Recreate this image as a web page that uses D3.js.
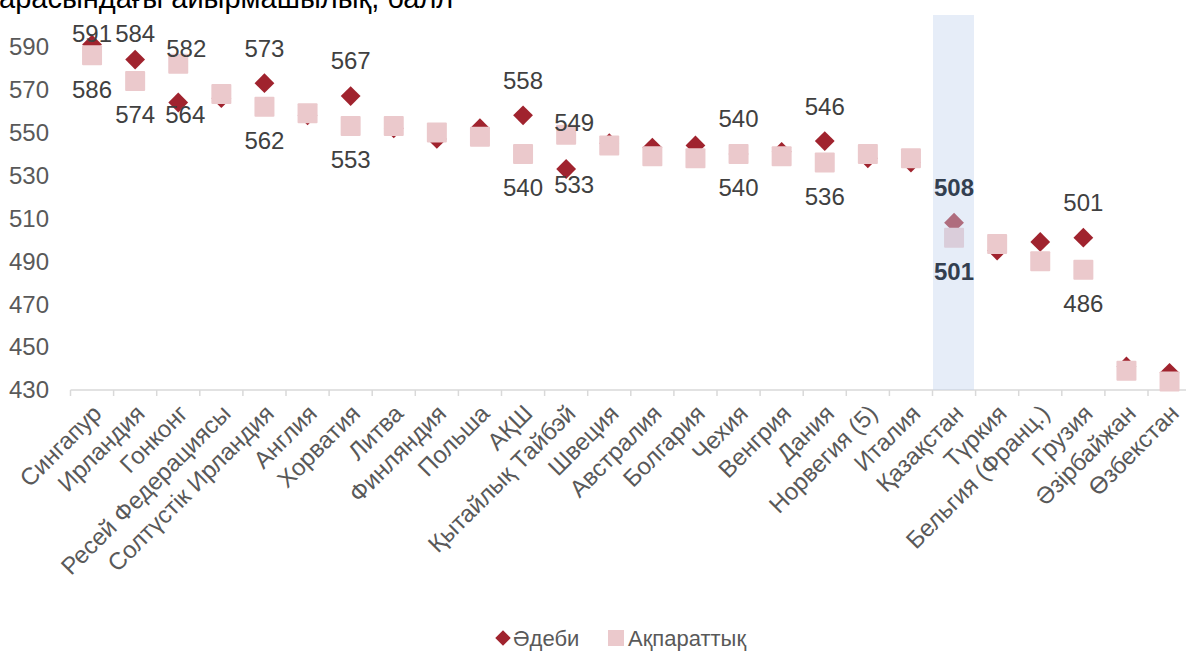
<!DOCTYPE html>
<html><head><meta charset="utf-8">
<script src="https://cdn.jsdelivr.net/npm/d3@7"></script>
<style>
html,body{margin:0;padding:0;background:#fff;}
svg{display:block;font-family:"Liberation Sans",Arial,sans-serif;}
</style></head>
<body>
<svg id="chart" width="1186" height="651"></svg>
<script>
const categories = ["Сингапур","Ирландия","Гонконг","Ресей Федерациясы","Солтүстік Ирландия","Англия","Хорватия","Литва","Финляндия","Польша","АҚШ","Қытайлық Тайбэй","Швеция","Австралия","Болгария","Чехия","Венгрия","Дания","Норвегия (5)","Италия","Қазақстан","Түркия","Бельгия (Франц.)","Грузия","Әзірбайжан","Өзбекстан"];
const literary = [591,584,564,566,573,558,567,552,547,552,558,533,545,543,544,540,541,546,538,536,508,495,499,501,441,438];
const informational = [586,574,582,568,562,559,553,553,550,548,540,549,544,539,538,540,539,536,540,538,501,498,490,486,439,434];
const yTicks = [430,450,470,490,510,530,550,570,590];
const labelled = ["Сингапур","Ирландия","Гонконг","Солтүстік Ирландия","Хорватия","АҚШ","Қытайлық Тайбэй","Чехия","Дания","Қазақстан","Грузия"];
const highlight = "Қазақстан";
const seriesNames = ["Әдеби","Ақпараттық"];
const titleText = "арасындағы айырмашылық, балл";

// label placement (layout config)
const litLabelOffset = {"Сингапур":[0,-11],"Ирландия":[0,-26],"Гонконг":[7,12],"Қытайлық Тайбэй":[8,16]};
const infLabelOffset = {"Гонконг":[8,-15],"Қытайлық Тайбэй":[8,-12]};

const svg = d3.select("#chart");
const x = d3.scaleBand().domain(categories).range([70.5, 70.5 + 26*43.1]).padding(0);
const y = d3.scaleLinear().domain([430,590]).range([390,46.7]);

const C_LIT = "#A0232E", C_INF = "#EBC9CC", C_TXT = "#595959", C_LBL = "#404040";

// title
svg.append("text").attr("x",-1).attr("y",8).attr("font-size",29).attr("fill","#000").text(titleText);

// y axis labels
svg.append("g").selectAll("text").data(yTicks).join("text")
  .attr("x",49).attr("y",d=>y(d)).attr("dy","0.35em").attr("text-anchor","end")
  .attr("font-size",24).attr("fill",C_TXT).text(d=>d);

// x axis
const xAxis = svg.append("g").attr("transform","translate(0,390)");
xAxis.append("line").attr("x1",x.range()[0]).attr("x2",x.range()[1]).attr("stroke","#D9D9D9").attr("stroke-width",1.5);
const bounds = categories.map(c=>x(c)).concat([x.range()[1]]);
xAxis.selectAll("line.tick").data(bounds).join("line").attr("class","tick")
  .attr("x1",d=>d).attr("x2",d=>d).attr("y1",0).attr("y2",6).attr("stroke","#D9D9D9").attr("stroke-width",1.5);
xAxis.selectAll("text").data(categories).join("text")
  .attr("transform",d=>`translate(${x(d)+x.bandwidth()/2+5},${19}) rotate(-45)`)
  .attr("text-anchor","end").attr("dy","0.35em").attr("font-size",24).attr("fill",C_TXT).text(d=>d);

const cx = c => x(c)+x.bandwidth()/2;
// diamonds
svg.append("g").selectAll("rect").data(categories).join("rect")
  .attr("x",-7).attr("y",-7).attr("width",14).attr("height",14)
  .attr("transform",(c,i)=>`translate(${cx(c)},${y(literary[i])}) rotate(45)`)
  .attr("fill",C_LIT);
// squares
svg.append("g").selectAll("rect").data(categories).join("rect")
  .attr("x",(c)=>cx(c)-10).attr("y",(c,i)=>y(informational[i])-10).attr("width",20).attr("height",20).attr("rx",1)
  .attr("fill",C_INF);

// highlight band (overlay)
const hb = x(highlight);
svg.append("rect").attr("x",hb+0.5).attr("y",15).attr("width",41).attr("height",375)
  .attr("fill","#C3D3EE").attr("fill-opacity",0.42);

// data labels
const lg = svg.append("g").attr("font-size",24).attr("text-anchor","middle");
categories.forEach((c,i)=>{
  if(!labelled.includes(c)) return;
  const isH = c===highlight;
  const lo = litLabelOffset[c] || [0,-35];
  const io = infLabelOffset[c] || [0,34];
  lg.append("text").attr("x",cx(c)+lo[0]).attr("y",y(literary[i])+lo[1]).attr("dy","0.35em")
    .attr("fill",isH?"#333F50":C_LBL).attr("font-weight",isH?"bold":"normal").text(literary[i]);
  lg.append("text").attr("x",cx(c)+io[0]).attr("y",y(informational[i])+io[1]).attr("dy","0.35em")
    .attr("fill",isH?"#333F50":C_LBL).attr("font-weight",isH?"bold":"normal").text(informational[i]);
});

// legend
const leg = svg.append("g").attr("font-size",22).attr("fill",C_TXT);
leg.append("rect").attr("x",-5.5).attr("y",-5.5).attr("width",11).attr("height",11)
  .attr("transform","translate(503,638) rotate(45)").attr("fill",C_LIT);
leg.append("text").attr("x",513).attr("y",638).attr("dy","0.35em").text(seriesNames[0]);
leg.append("rect").attr("x",608).attr("y",630).attr("width",16).attr("height",16).attr("fill",C_INF);
leg.append("text").attr("x",628).attr("y",638).attr("dy","0.35em").text(seriesNames[1]);
</script>
</body></html>
